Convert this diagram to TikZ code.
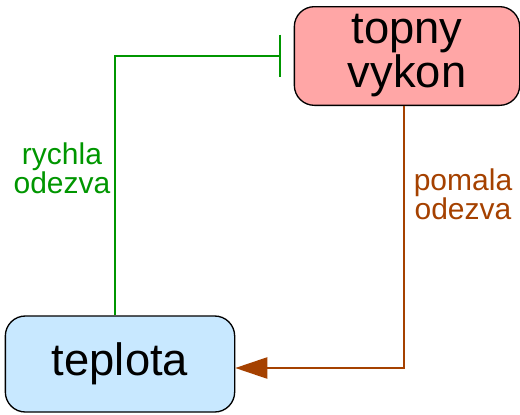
\documentclass[tikz,border=0pt]{standalone}
\usepackage{fontspec}
\setmainfont{Liberation Sans}
\usetikzlibrary{arrows.meta,positioning,calc}
\definecolor{pwrFill}  {RGB}{255,166,166}
\definecolor{tempFill} {RGB}{200,232,255}
\definecolor{fastGreen}{RGB}{0,150,0}
\definecolor{slowBrown}{RGB}{165,65,0}

\tikzset{
  block/.style={draw=black,line width=1pt,rounded corners=15pt,align=center,
                font=\fontsize{34}{33}\selectfont},
  lbl/.style={align=center,font=\fontsize{22.5}{20}\selectfont},
}

\begin{document}
\begin{tikzpicture}[x=0.75pt,y=-0.75pt]

    \useasboundingbox (0,0) rectangle (520,414);

    % ── BLOKY ─────────────────────────────────────────────
    \node[block,fill=pwrFill,minimum width=169pt,minimum height=74pt]
      (pwr) at (407,56){topny\\vykon};

    \node[block,fill=tempFill,minimum width=172pt,minimum height=72pt]
      (temp) at (120,364){teplota};

    % ── RYCHLA ODEZVA ─────────────────────────────────────
    \coordinate (fastTop) at ($(pwr.west)+(-13,0)$);
    \draw[fastGreen,line width=1pt,-{Bar[width=32pt]}]
      ([xshift=-3.75pt]temp.north) |- (fastTop);

    \node[lbl,text=fastGreen] (fastLbl) at (62,168){rychla\\odezva};

    % ── POMALA ODEZVA ─────────────────────────────────────
    \draw[slowBrown,line width=1pt,-{Triangle[length=24pt,width=16pt]}]
      ([xshift=-2.25pt]pwr.south) |- ([yshift=-3pt]temp.east);

    \node[lbl,text=slowBrown] (slowLbl) at (463,194){pomala\\odezva};

\end{tikzpicture}
\end{document}
